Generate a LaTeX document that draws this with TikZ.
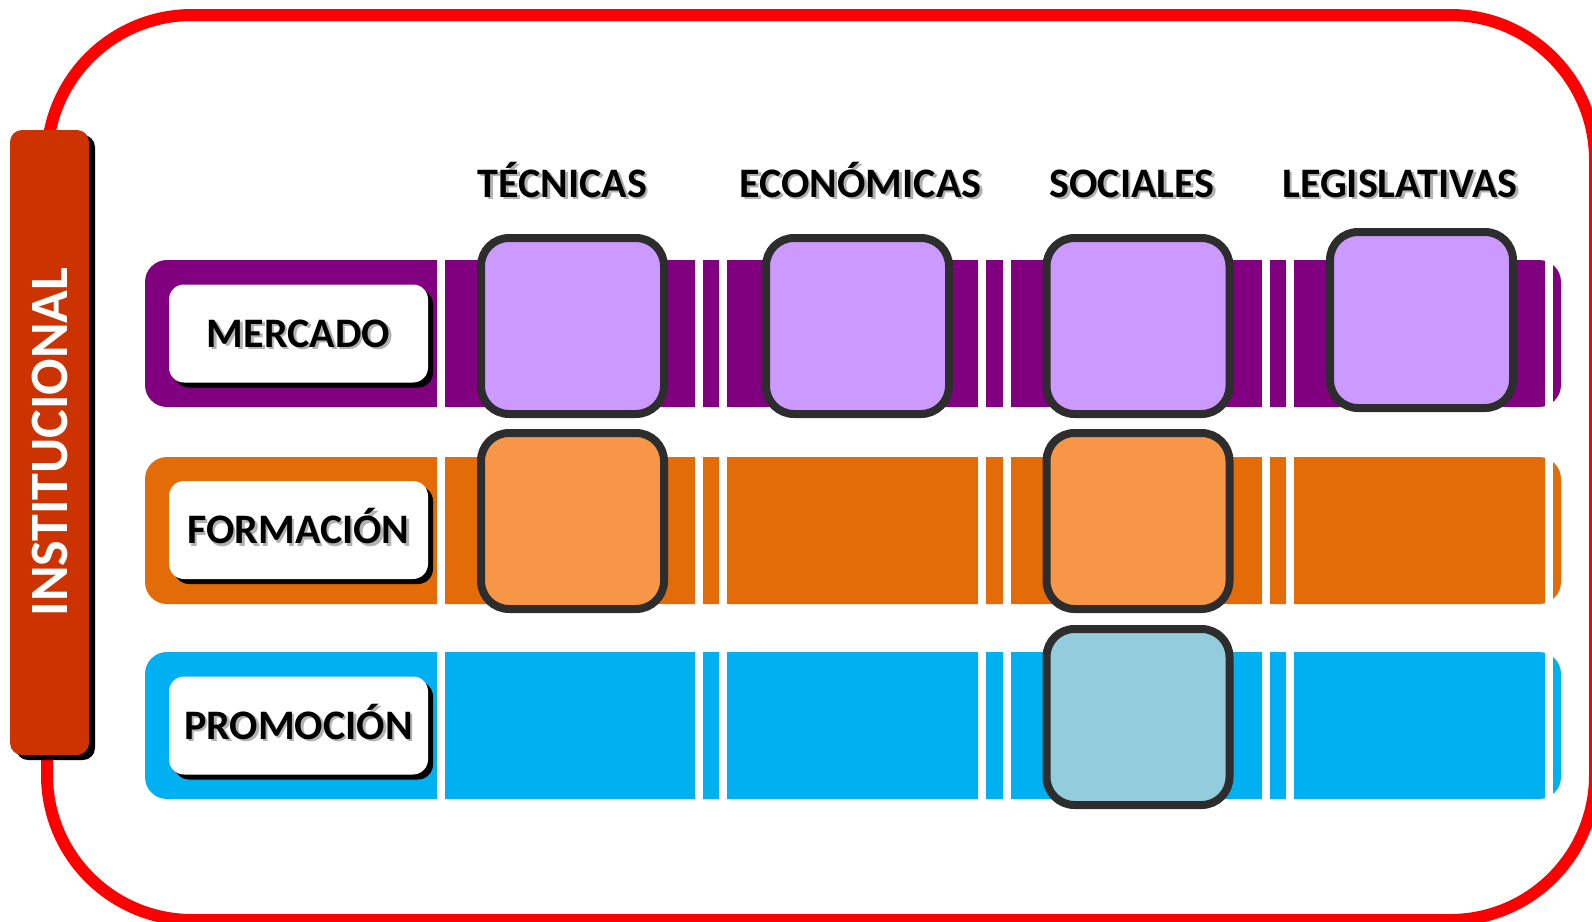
\documentclass[tikz,border=0pt]{standalone}
\usepackage{fontspec}
\setmainfont{Carlito}
\usetikzlibrary{shadows}

\definecolor{marco}{HTML}{FF0000}
\definecolor{instrojo}{HTML}{CC3300}
\definecolor{morado}{HTML}{800080}
\definecolor{moradoclaro}{HTML}{CC99FF}
\definecolor{naranja}{HTML}{E36C09}
\definecolor{naranjaclaro}{HTML}{F79646}
\definecolor{azul}{HTML}{00B0F0}
\definecolor{azulclaro}{HTML}{93CDDD}
\definecolor{borde}{HTML}{2D2D2D}

\newcommand{\sombra}[1]{\makebox[0pt][l]{\hspace{2.5pt}\raisebox{-2.5pt}{\textcolor{black!30}{#1}}}#1}

\tikzset{
  titulo/.style={font=\fontsize{42}{50}\selectfont\bfseries, anchor=base},
  etiqueta/.style={fill=white, rounded corners=15pt, minimum width=259pt, minimum height=98pt,
    inner sep=0pt, text height=27pt, text depth=0pt, font=\fontsize{42}{50}\selectfont\bfseries,
    drop shadow={shadow xshift=5pt, shadow yshift=-5pt, opacity=1, fill=black}},
  celda/.style={draw=borde, line width=8pt, rounded corners=28pt, minimum width=183pt,
    minimum height=176pt, inner sep=0pt},
}

\begin{document}
\begin{tikzpicture}[x=1pt, y=-1pt]
        \useasboundingbox (0,0) rectangle (1592,921);
        % marco
        \draw[marco, line width=12pt, rounded corners=145pt] (47,15) rectangle (1595,920);
        % barra institucional
        \fill[black, rounded corners=12pt] (16,135) rectangle (95,760);
        \fill[instrojo, rounded corners=12pt] (10,130) rectangle (89,755);
        \node[rotate=90, text=white, font=\fontsize{54}{60}\selectfont\bfseries, text height=35pt, text depth=0pt] (inst) at (50,442) {INSTITUCIONAL};
        % filas
        \foreach \y/\c in {260/morado, 457/naranja, 652/azul}
          \fill[\c, rounded corners=22pt] (145,\y) rectangle (1561,\y+147);
        \foreach \gx in {437,695,719,978,1003,1262,1286,1545}
          \fill[white] (\gx,255) rectangle ++(8,550);
        \node[etiqueta] (mer) at (298.5,333.5) {\sombra{MERCADO}};
        \node[etiqueta] (for) at (298.5,530) {\sombra{FORMACIÓN}};
        \node[etiqueta] (pro) at (298.5,725.5) {\sombra{PROMOCIÓN}};
        % celdas
        \node[celda, fill=moradoclaro] (merTec) at (572.5,326) {};
        \node[celda, fill=moradoclaro] (merEco) at (857.5,326) {};
        \node[celda, fill=moradoclaro] (merSoc) at (1138,326) {};
        \node[celda, fill=moradoclaro] (merLeg) at (1421.5,320) {};
        \node[celda, fill=naranjaclaro] (forTec) at (572.5,521) {};
        \node[celda, fill=naranjaclaro] (forSoc) at (1138,521) {};
        \node[celda, fill=azulclaro] (proSoc) at (1138,717) {};
        % columnas
        \node[titulo] (tec) at (562.5,197) {\sombra{TÉCNICAS}};
        \node[titulo] (eco) at (860.5,197) {\sombra{ECONÓMICAS}};
        \node[titulo] (soc) at (1132,197) {\sombra{SOCIALES}};
        \node[titulo] (leg) at (1400,197) {\sombra{LEGISLATIVAS}};
\end{tikzpicture}
\end{document}
